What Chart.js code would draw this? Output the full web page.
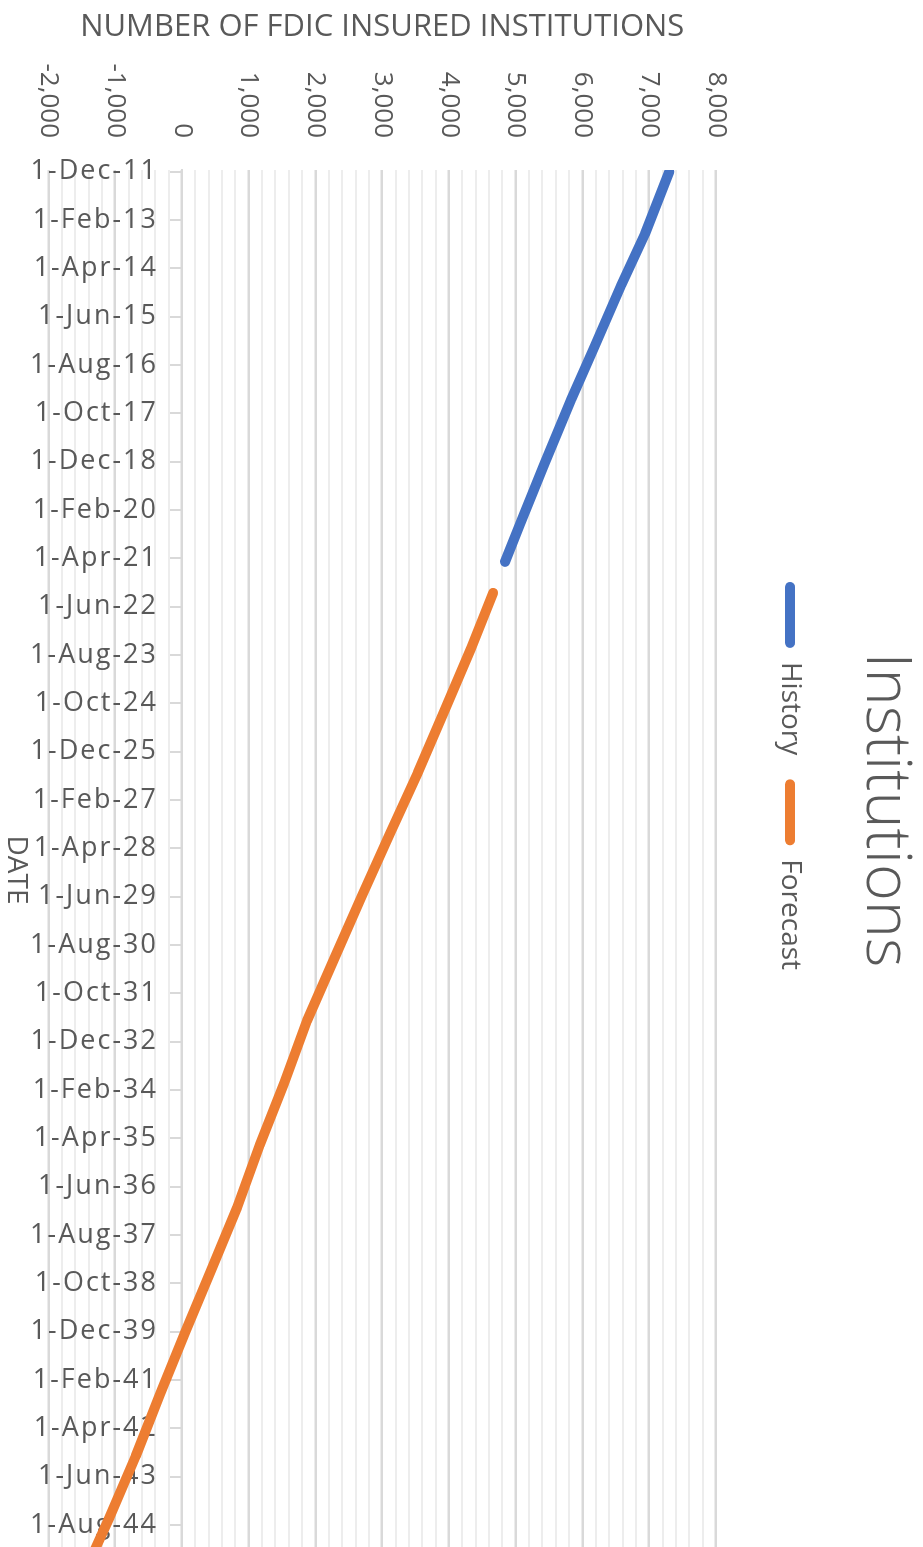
<!DOCTYPE html>
<html>
<head>
<meta charset="utf-8">
<script src="https://cdn.jsdelivr.net/npm/chart.js@4.4.1/dist/chart.umd.min.js"></script>
<style>
html, body { margin: 0; padding: 0; background: #ffffff; }
body { width: 923px; height: 1547px; overflow: hidden; position: relative; }
#wrap { position: absolute; left: 0; top: 0; width: 1620px; height: 923px;
        transform-origin: 0 0; transform: translate(923px, 0) rotate(90deg); }
canvas { display: block; }
</style>
</head>
<body>
<div id="wrap"><canvas id="c" width="1620" height="923"></canvas></div>
<script>
// ---- data ----
const dateLabels = ['1-Dec-11','1-Feb-13','1-Apr-14','1-Jun-15','1-Aug-16','1-Oct-17','1-Dec-18',
  '1-Feb-20','1-Apr-21','1-Jun-22','1-Aug-23','1-Oct-24','1-Dec-25','1-Feb-27','1-Apr-28',
  '1-Jun-29','1-Aug-30','1-Oct-31','1-Dec-32','1-Feb-34','1-Apr-35','1-Jun-36','1-Aug-37',
  '1-Oct-38','1-Dec-39','1-Feb-41','1-Apr-42','1-Jun-43','1-Aug-44'];

const historyDates  = ['2011-12','2013-06','2014-09','2016-03','2017-06','2019-01','2020-06','2021-05'];
const historyValues = [7300, 6936, 6577, 6172, 5830, 5423, 5064, 4839];

const forecastDates  = ['2022-02','2023-06','2024-12','2026-06','2027-12','2029-06','2030-12','2032-06',
  '2033-12','2035-06','2036-12','2038-06','2039-12','2041-06','2042-12','2044-06','2045-08'];
const forecastValues = [4660, 4330, 3933, 3535, 3109, 2690, 2278, 1871,
  1530, 1163, 826, 440, 50, -329, -693, -1092, -1420];

const valueMin = -2000, valueMax = 8000, valueMajorStep = 1000, valueMinorStep = 200;

// ---- helpers ----
const MONTHS = {Jan:1,Feb:2,Mar:3,Apr:4,May:5,Jun:6,Jul:7,Aug:8,Sep:9,Oct:10,Nov:11,Dec:12};
const baseYear = 2011, baseMonth = 12;
function monthIndex(y, m) { return (y - baseYear) * 12 + (m - baseMonth); }
function isoToIndex(s) { const [y, m] = s.split('-').map(Number); return monthIndex(y, m); }
function labelToIndex(s) { const p = s.split('-'); return monthIndex(2000 + Number(p[2]), MONTHS[p[1]]); }
const toPoints = (dates, vals) => dates.map((d, i) => ({ x: isoToIndex(d), y: vals[i] }));
const dateTickValues = dateLabels.map(labelToIndex);
const valueTicks = [];
for (let v = valueMin; v <= valueMax; v += valueMinorStep) valueTicks.push(v);

const FONT = "'Open Sans', 'Noto Sans', sans-serif";
const TXT = '#595959';
const MAJOR = '#d9d9d9', MINOR = '#ededed';

const layoutTweak = {
  id: 'layoutTweak',
  afterInit(chart) {
    const lg = chart.legend;
    const fit = lg.fit;
    lg.fit = function () { fit.call(this); if (this.options.display) this.height += 50; };
  },
  afterLayout(chart) {
    chart.legend.left -= 11; chart.legend.right -= 11;
    if (chart.titleBlock) { chart.titleBlock.left += 23; chart.titleBlock.right += 23; }
    const sx = chart.scales.x;
    if (sx && !sx.__spaced) {
      const orig = sx.drawLabels;
      sx.drawLabels = function (ca) {
        const c = this.ctx; c.save(); c.letterSpacing = '2px'; orig.call(this, ca); c.restore();
      };
      sx.__spaced = true;
    }
  }
};

new Chart(document.getElementById('c'), {
  type: 'line',
  data: {
    datasets: [
      { label: 'History', data: toPoints(historyDates, historyValues),
        borderColor: '#4472C4', backgroundColor: '#4472C4', borderWidth: 10,
        borderCapStyle: 'round', borderJoinStyle: 'round', pointRadius: 0, tension: 0, fill: false },
      { label: 'Forecast', data: toPoints(forecastDates, forecastValues),
        borderColor: '#ED7D31', backgroundColor: '#ED7D31', borderWidth: 10,
        borderCapStyle: 'round', borderJoinStyle: 'round', pointRadius: 0, tension: 0, fill: false }
    ]
  },
  options: {
    responsive: false,
    animation: false,
    devicePixelRatio: 1,
    events: [],
    layout: { padding: { left: 4, right: 50, top: 0, bottom: 48.5 } },
    scales: {
      x: {
        type: 'linear',
        position: { y: 0 },
        min: -0.5, max: 405,
        afterBuildTicks: s => { s.ticks = dateTickValues.map(v => ({ value: v })); },
        ticks: { autoSkip: false, minRotation: 90, maxRotation: 90, padding: 12, color: TXT,
                 font: { family: FONT, size: 27 }, callback: (v, i) => dateLabels[i] },
        grid: { drawOnChartArea: false, drawTicks: true, tickLength: 12, color: MAJOR, lineWidth: 2 },
        border: { display: true, color: MAJOR, width: 2 },
        title: { display: true, text: 'DATE', color: TXT, font: { family: FONT, size: 28 },
                 padding: { top: 1, bottom: 0 } }
      },
      y: {
        type: 'linear',
        position: 'left',
        min: valueMin, max: valueMax,
        afterBuildTicks: s => { s.ticks = valueTicks.map(v => ({ value: v })); },
        afterFit: s => { s.width = 166; },
        ticks: { autoSkip: false, padding: 32, color: TXT, font: { family: FONT, size: 26 },
                 callback: v => (v % valueMajorStep === 0 ? v.toLocaleString('en-US') : '') },
        grid: { drawTicks: false,
                color: c => (c.tick && c.tick.value % valueMajorStep === 0 ? MAJOR : MINOR),
                lineWidth: c => (c.tick && c.tick.value % valueMajorStep === 0 ? 2.5 : 2) },
        border: { display: false },
        title: { display: true, text: 'NUMBER OF FDIC INSURED INSTITUTIONS', color: TXT,
                 font: { family: FONT, size: 31 }, padding: { top: 5, bottom: 0 } }
      }
    },
    plugins: {
      title: { display: true, text: 'Institutions', color: TXT,
               font: { family: FONT, size: 63, weight: '300' }, padding: { top: 0, bottom: 19.4 } },
      legend: {
        position: 'top',
        labels: {
          boxWidth: 66, boxHeight: 10, useBorderRadius: true, borderRadius: 5, padding: 24,
          color: TXT, font: { family: FONT, size: 28 },
          generateLabels: chart => chart.data.datasets.map((ds, i) => ({
            text: ds.label, fillStyle: ds.borderColor, strokeStyle: ds.borderColor, lineWidth: 0,
            borderRadius: 5, hidden: false, datasetIndex: i, fontColor: TXT }))
        }
      },
      tooltip: { enabled: false }
    }
  },
  plugins: [layoutTweak]
});
</script>
</body>
</html>
